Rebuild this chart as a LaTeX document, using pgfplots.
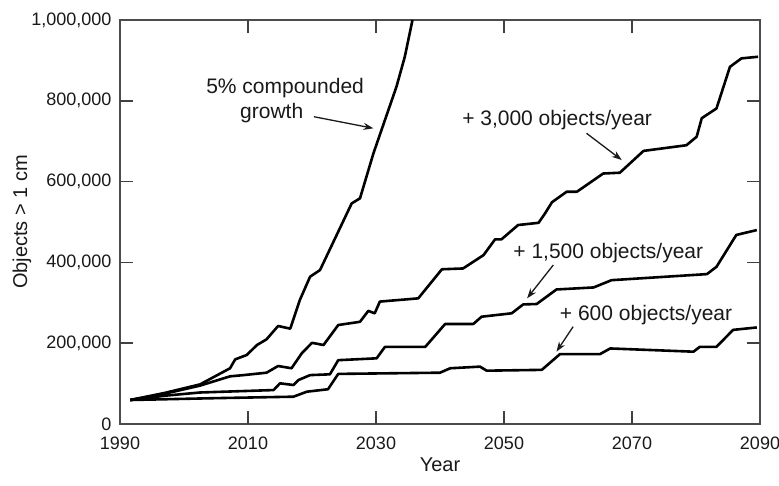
\documentclass[border=0pt]{standalone}
\usepackage{pgfplots}
\pgfplotsset{compat=1.18}
\usepackage{fontspec}
\setmainfont{Liberation Sans}
\usetikzlibrary{arrows.meta}

\definecolor{axisgray}{gray}{0.3}
\definecolor{txt}{gray}{0.1}

\pgfplotsset{curve/.style={black, line width=2.6pt, line join=round, mark=none}}
\tikzset{tickline/.style={draw=black!75, line width=1.5pt}}

\begin{document}
\begin{tikzpicture}
\useasboundingbox (-120pt,-61pt) rectangle (659pt,424pt);
\begin{axis}[
    at={(0pt,0pt)}, anchor=south west,
    scale only axis,
    width=640pt, height=404pt,
    xmin=1990, xmax=2090,
    ymin=0, ymax=1000000,
    xtick={1990,2010,2030,2050,2070,2090},
    xticklabels={1990,2010,2030,2050,2070,2090},
    ytick={0,200000,400000,600000,800000,1000000},
    yticklabels={0,{200,000},{400,000},{600,000},{800,000},{1,000,000}},
    scaled y ticks=false,
    tick align=inside,
    tick pos=both,
    major tick length=13pt,
    major tick style={axisgray, line width=1.4pt},
    axis line style={axisgray, line width=1.8pt},
    ticklabel style={font=\fontsize{18}{21}\selectfont, text=txt},
    yticklabel style={xshift=-5pt},
    xticklabel style={yshift=-9pt},
    xlabel={Year},
    ylabel={Objects > 1 cm},
    label style={font=\fontsize{20}{24}\selectfont, text=txt},
    xlabel style={at={(axis description cs:0.5,-0.1)}, anchor=center},
    ylabel style={at={(axis description cs:-0.153,0.5)}, anchor=center},
    ]

% tick marks on all four sides, pointing inward
\pgfplotsinvokeforeach{2010,2030,2050,2070}{
  \draw[tickline] (axis cs:#1,0) -- (axis cs:#1,32000);
  \draw[tickline] (axis cs:#1,1000000) -- (axis cs:#1,968000);
}
\pgfplotsinvokeforeach{200000,400000,600000,800000}{
  \draw[tickline] (axis cs:1990,#1) -- (axis cs:1992,#1);
  \draw[tickline] (axis cs:2090,#1) -- (axis cs:2088,#1);
}

% 5% compounded growth
\addplot[curve] coordinates {
(1991.6,59400) (1997,77000) (2002.5,98000) (2007.2,138000) (2008.0,160000)
(2009.8,170800) (2011.4,195500) (2012.9,209600) (2014.7,242600) (2016.6,236000)
(2018.1,306900) (2019.7,364600) (2021.25,381000) (2026.2,546000) (2027.5,558600)
(2029.6,670000) (2033.2,835000) (2034.5,909000) (2035.7,1000000)
};

% + 3,000 objects/year
\addplot[curve] coordinates {
(1991.6,59400) (1997,75000) (2002.5,95000) (2007.2,118000) (2009.3,121000)
(2012.9,127000) (2014.7,143500) (2016.8,138000) (2018.4,175000) (2020.0,201000)
(2021.8,195500) (2024.1,245000) (2027.5,253000) (2028.8,280000) (2029.8,274000)
(2030.6,303000) (2036.6,311000) (2040.3,383000) (2043.6,385000) (2046.8,418000)
(2048.6,457000) (2049.6,457000) (2052.2,492500) (2055.4,498000) (2056.4,521000)
(2057.5,549000) (2059.8,575000) (2061.4,575000) (2065.5,620000) (2068.1,622000)
(2071.8,676000) (2078.5,690000) (2080.1,711000) (2080.9,757000) (2083.2,781000)
(2085.3,884000) (2087.1,905000) (2089.7,909000)
};

% + 1,500 objects/year
\addplot[curve] coordinates {
(1991.6,59400) (1997,70000) (2002.5,78000) (2014.0,84000) (2015.0,100700)
(2017.1,96500) (2017.9,109000) (2019.7,121000) (2022.8,123000) (2024.1,158000)
(2030.1,162600) (2031.4,191000) (2037.7,191000) (2040.8,247500) (2045.2,247500)
(2046.5,265600) (2051.2,274000) (2053.0,296000) (2055.1,297000) (2058.2,333000)
(2064.0,338000) (2066.8,356000) (2081.7,371000) (2083.2,389000) (2086.3,468000)
(2089.5,480000)
};

% + 600 objects/year
\addplot[curve] coordinates {
(1991.6,59400) (2005,64000) (2017.1,67600) (2019.2,80000) (2022.5,86000)
(2024.1,124000) (2040.0,127000) (2041.6,138000) (2046.25,142000) (2047.3,132000)
(2055.9,134000) (2058.75,173000) (2065.0,173000) (2066.6,187000) (2079.6,179000)
(2080.6,191000) (2083.2,191000) (2085.8,233000) (2089.5,239000)
};

\begin{scope}[every node/.style={font=\fontsize{21}{25}\selectfont, text=txt, inner sep=0pt}]
\node at (axis cs:2015.8,831600) {5\% compounded};
\node at (axis cs:2013.7,770000) {growth};
\node at (axis cs:2058.3,752400) {+ 3,000 objects/year};
\node at (axis cs:2066.3,422500) {+ 1,500 objects/year};
\node at (axis cs:2072.2,269800) {+ 600 objects/year};
\end{scope}

\begin{scope}[txt, line width=1.3pt, -{Stealth[length=10pt,width=7pt]}]
\draw (axis cs:2020.3,760600) -- (axis cs:2029.6,731900);
\draw (axis cs:2062.9,719500) -- (axis cs:2068.4,653400);
\draw (axis cs:2057.7,393500) -- (axis cs:2053.6,311000);
\draw (axis cs:2060.8,240800) -- (axis cs:2058.2,179000);
\end{scope}

\end{axis}
\end{tikzpicture}
\end{document}
